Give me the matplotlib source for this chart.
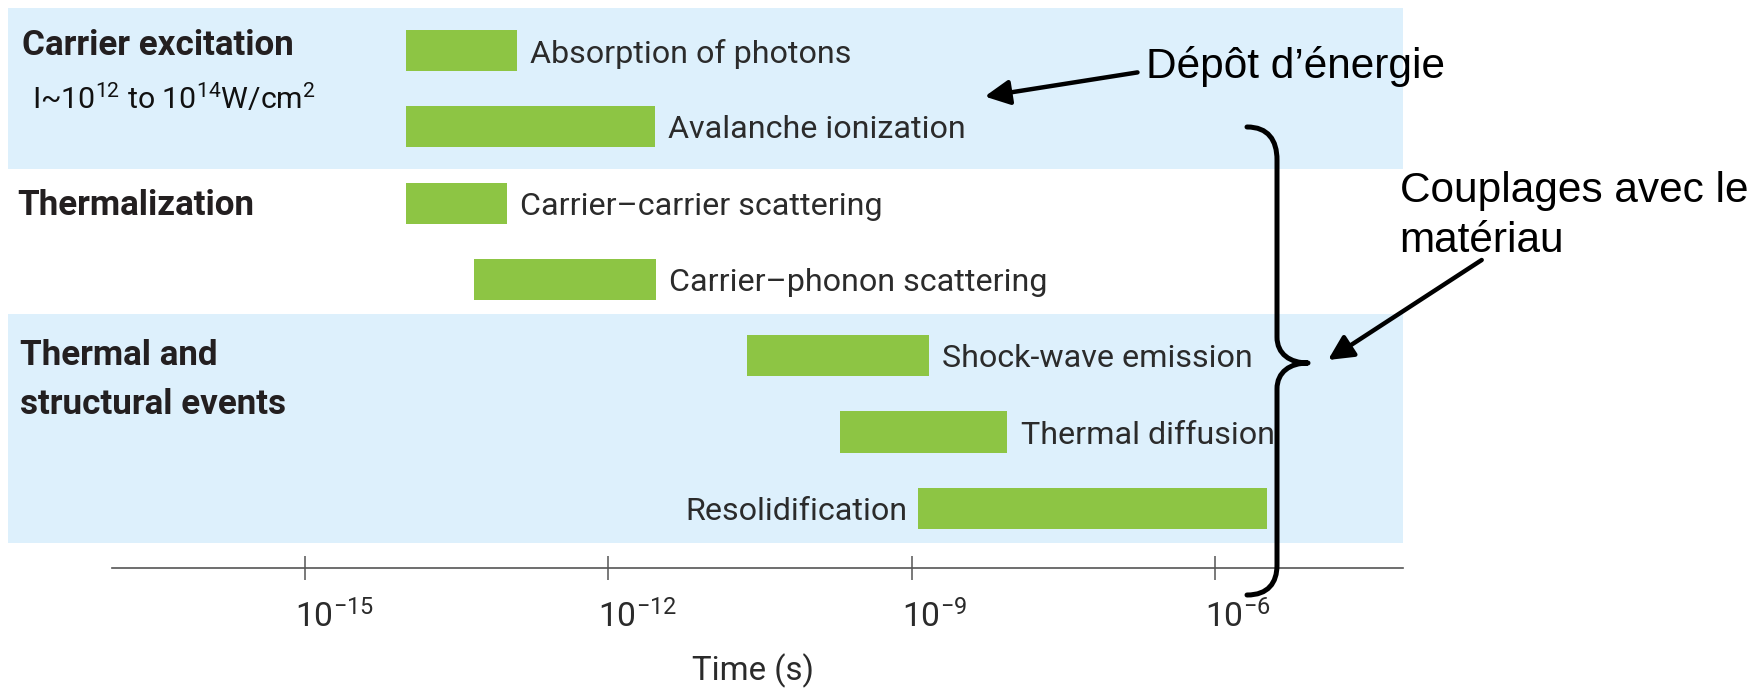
import matplotlib
matplotlib.use("Agg")
import matplotlib.pyplot as plt
from matplotlib.transforms import Affine2D, ScaledTranslation
from matplotlib.patches import FancyArrowPatch, PathPatch
from matplotlib.path import Path

# ---------------- data ----------------
processes = ["Absorption of photons", "Avalanche ionization",
             "Carrier\u2013carrier scattering", "Carrier\u2013phonon scattering",
             "Shock-wave emission", "Thermal diffusion", "Resolidification"]
t_start = [1.0e-14, 1.0e-14, 1.0e-14, 4.7e-14, 2.35e-11, 1.95e-10, 1.16e-9]
t_end = [1.25e-13, 2.9e-12, 1.0e-13, 2.95e-12, 1.47e-9, 8.8e-9, 3.24e-6]
label_side = ["right", "right", "right", "right", "right", "right", "left"]
groups = ["Carrier excitation", "Thermalization", "Thermal and\nstructural events"]
intensity_note = "I~10$^{12}$ to 10$^{14}$W/cm$^{2}$"
tick_values = [1e-15, 1e-12, 1e-9, 1e-6]
x_label = "Time (s)"
note_energy = "D\u00e9p\u00f4t d\u2019\u00e9nergie"
note_coupling = "Couplages avec le\nmat\u00e9riau"

# ---------------- style ----------------
W, H, DPI = 1763, 688, 100
COND = ["Roboto", "Liberation Sans", "DejaVu Sans"]
plt.rcParams["font.family"] = COND
plt.rcParams["mathtext.fontset"] = "custom"
plt.rcParams["mathtext.rm"] = "Roboto"
plt.rcParams["mathtext.it"] = "Roboto:italic"
plt.rcParams["mathtext.bf"] = "Roboto:bold"

BAR = "#8DC544"
BAND = "#DDF0FC"
TXT = "#2B2B2B"
AX = "#555555"

fig = plt.figure(figsize=(W / DPI, H / DPI), dpi=DPI)
fig.patch.set_facecolor("white")
renderer = fig.canvas.get_renderer()


def scale_to_width(artists, ref_artist, target_px):
    w = ref_artist.get_window_extent(renderer).width
    f = target_px / w
    for a in artists:
        a.set_fontsize(a.get_fontsize() * f)


# pixel transform (x from left, y from top, in figure pixels)
pix = Affine2D().scale(1 / DPI, -1 / DPI).translate(0, H / DPI) + fig.dpi_scale_trans

ax_left, ax_right, ax_top, ax_bottom = 8.0, 1403.0, 8.0, 567.7
ax = fig.add_axes([ax_left / W, 1 - ax_bottom / H, (ax_right - ax_left) / W,
                   (ax_bottom - ax_top) / H])
ax.set_facecolor("none")

ax.set_xscale("log")
ax.set_xlim(10 ** -17.932, 10 ** -4.147)
ax.set_ylim(6.778, -0.557)

# background bands
ax.axhspan(-0.557, 1.553, color=BAND, zorder=0, lw=0)
ax.axhspan(3.453, 6.459, color=BAND, zorder=0, lw=0)

rows = list(range(len(processes)))
widths = [e - s for s, e in zip(t_start, t_end)]
ax.barh(rows, widths, left=t_start, height=0.54, color=BAR, zorder=2, lw=0)

bar_texts = []
for i, (name, s, e, side) in enumerate(zip(processes, t_start, t_end, label_side)):
    if side == "right":
        t = ax.annotate(name, xy=(e, i), xytext=(9.4, 0), textcoords="offset points",
                        ha="left", va="center_baseline", fontsize=28, color=TXT)
    else:
        t = ax.annotate(name, xy=(s, i), xytext=(-8.0, 0), textcoords="offset points",
                        ha="right", va="center_baseline", fontsize=28, color=TXT)
    bar_texts.append(t)
scale_to_width(bar_texts, bar_texts[0], 320)

# axis styling
for sp in ["top", "left", "right"]:
    ax.spines[sp].set_visible(False)
ax.spines["bottom"].set_color(AX)
ax.spines["bottom"].set_linewidth(1.2)
ax.spines["bottom"].set_bounds(10 ** -16.9, 10 ** -4.147)
ax.set_yticks([])
ax.set_xticks(tick_values)
ax.xaxis.set_minor_locator(matplotlib.ticker.NullLocator())
ax.tick_params(axis="x", direction="inout", length=17.3, width=1.1, color=AX,
               labelsize=26, labelcolor=TXT, pad=33.8)
fig.canvas.draw()
tl = ax.get_xticklabels()
w0 = tl[0].get_window_extent(renderer).width
ax.tick_params(axis="x", labelsize=26 * 79.0 / w0)
for lab in ax.get_xticklabels():
    lab.set_ha("left")
    lab.set_va("baseline")
    lab.set_transform(lab.get_transform() + ScaledTranslation(-10 / DPI, 0, fig.dpi_scale_trans))

ax.set_xlabel(x_label, fontsize=27, color=TXT)
ax.xaxis.set_label_coords((752.9 - ax_left) / (ax_right - ax_left),
                          -(680 - ax_bottom) / (ax_bottom - ax_top))
ax.xaxis.label.set_va("baseline")
scale_to_width([ax.xaxis.label], ax.xaxis.label, 122)

# group labels (pixel positions: left x, first baseline y)
group_pos = [(21.8, 55.0), (17.2, 215.0), (20.0, 365.0)]
group_texts = []
for g, (gx, gy) in zip(groups, group_pos):
    for k, line in enumerate(g.split("\n")):
        group_texts.append(fig.text(gx, gy + k * 49.3, line, transform=pix, fontsize=27.5,
                                    fontweight="bold", color="#231F20", ha="left",
                                    va="baseline"))
scale_to_width(group_texts, group_texts[0], 272)

note = fig.text(31.6, 108.3, intensity_note, transform=pix, fontsize=21.5,
                color="#111111", ha="left", va="baseline")
scale_to_width([note], note, 284)

# annotations in Arial-like font
SANS = ["Liberation Sans", "DejaVu Sans"]
fig.text(1146, 78, note_energy, transform=pix, fontsize=30.5, family=SANS,
         color="black", ha="left", va="baseline")
for k, line in enumerate(note_coupling.split("\n")):
    fig.text(1399.5, 201.8 + k * 50.2, line, transform=pix, fontsize=30.5, family=SANS,
             color="black", ha="left", va="baseline")

arrow_kw = dict(transform=pix, arrowstyle="-|>,head_length=0.6,head_width=0.3",
                mutation_scale=25, lw=3.2, color="black", shrinkA=0, shrinkB=0)
fig.add_artist(FancyArrowPatch((1137.5, 72.4), (984.7, 96.5), **arrow_kw))
fig.add_artist(FancyArrowPatch((1481.7, 260.0), (1328.0, 360.0), **arrow_kw))

# curly brace
verts = [(1247, 127), (1268, 127), (1277, 140), (1277, 160),
         (1277, 337),
         (1277, 354), (1290, 363), (1308, 363),
         (1290, 363), (1277, 372), (1277, 389),
         (1277, 565),
         (1277, 583), (1268, 595), (1247, 595)]
codes = ([Path.MOVETO] + [Path.CURVE4] * 3 + [Path.LINETO] + [Path.CURVE4] * 3
         + [Path.CURVE4] * 3 + [Path.LINETO] + [Path.CURVE4] * 3)
brace = PathPatch(Path(verts, codes), transform=pix, fill=False, lw=3.6,
                  edgecolor="black", capstyle="round", joinstyle="round")
fig.add_artist(brace)

fig.savefig("out.png", dpi=DPI, facecolor="white")
